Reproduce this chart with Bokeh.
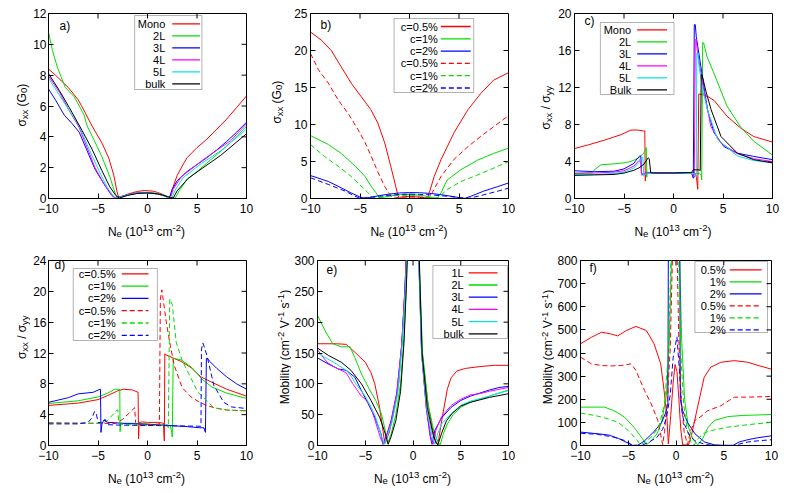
import math
from bokeh.plotting import figure
from bokeh.layouts import row, column
from bokeh.models import Range1d, FixedTicker, Label, BoxAnnotation
from bokeh.embed import file_html
from bokeh.resources import INLINE

FONT = "Liberation Sans"
RED, GREEN, BLUE, MAG, CYAN, BLACK = "#ff0000", "#00dd00", "#0000ff", "#ff00ff", "#00e5e5", "#000000"

NE_TICKS = [-10, -5, 0, 5, 10]

# ---------------- panel a : sigma_xx (G0) vs layers ----------------
A_Y_TICKS = [0, 2, 4, 6, 8, 10, 12]
A_LABELS = ["Mono", "2L", "3L", "4L", "5L", "bulk"]
A_MONO_X = [-10, -9.3, -8, -7, -6.4, -5.6, -4.6, -3.9, -3.4, -3.1, -2.9, -2.5, -2, -1.5, -1, -0.3, 0.5, 1, 1.5, 2, 2.25, 2.5, 3, 3.5, 4, 5, 6, 7, 8, 9, 10]
A_MONO_Y = [8.4, 8.0, 7.2, 6.4, 5.7, 4.7, 3.6, 2.6, 1.5, 0.5, 0.05, 0.15, 0.28, 0.38, 0.46, 0.52, 0.48, 0.4, 0.28, 0.12, 0.03, 0.6, 1.5, 2.1, 2.65, 3.3, 3.85, 4.5, 5.15, 5.9, 6.65]
A_2L_X = [-10, -9.6, -9.1, -8.3, -7.4, -6.8, -6.4, -6.1, -5.4, -4.6, -3.8, -3.3, -3.05, -2.5, -2, -1, 0, 1, 1.5, 2, 2.5, 2.8, 3.2, 4, 5, 6, 7, 8, 9, 10]
A_2L_Y = [10.8, 9.6, 8.5, 7.2, 6.6, 5.9, 5.4, 4.7, 3.8, 2.7, 1.4, 0.4, 0.03, 0.12, 0.22, 0.36, 0.4, 0.33, 0.25, 0.14, 0.04, 0.02, 0.5, 1.25, 1.75, 2.3, 2.85, 3.4, 4.0, 4.7]
A_3L_X = [-10, -9.3, -8.4, -7.6, -6.9, -6.1, -5.3, -4.4, -3.6, -3.25, -3, -2.5, -2, -1, 0, 1, 1.5, 2, 2.2, 2.5, 3, 4, 5, 6, 7, 8, 9, 10]
A_3L_Y = [7.1, 6.4, 5.4, 4.85, 4.3, 3.1, 1.9, 0.95, 0.2, 0.02, 0.08, 0.16, 0.25, 0.36, 0.38, 0.3, 0.22, 0.08, 0.02, 0.6, 1.15, 1.75, 2.2, 2.65, 3.15, 3.7, 4.3, 4.95]
A_4L_X = [-10, -8.9, -7.9, -6.9, -6.1, -5.3, -4.4, -3.8, -3.4, -3.1, -2.5, -2, -1, 0, 1, 1.5, 2, 2.3, 2.6, 3.4, 4.7, 5.7, 6.7, 8.4, 10]
A_4L_Y = [7.95, 6.9, 5.7, 4.6, 3.3, 2.0, 0.95, 0.35, 0.08, 0.03, 0.14, 0.24, 0.36, 0.38, 0.3, 0.22, 0.09, 0.02, 0.6, 1.4, 2.05, 2.55, 3.0, 3.75, 4.85]
A_5L_X = [-10, -8.9, -7.9, -6.9, -5.9, -4.9, -4.1, -3.5, -3.2, -2.5, -2, -1, 0, 1, 1.5, 2, 2.45, 2.8, 3.6, 5.4, 7.4, 10]
A_5L_Y = [7.8, 6.7, 5.7, 4.7, 3.2, 1.8, 0.75, 0.2, 0.03, 0.13, 0.23, 0.35, 0.37, 0.3, 0.22, 0.1, 0.02, 0.55, 1.35, 2.25, 3.1, 4.5]
A_BULK_X = [-10, -8.9, -7.9, -6.6, -5.6, -4.6, -3.8, -3.2, -2.85, -2.5, -2, -1, 0, 1, 1.5, 2, 2.3, 2.6, 3.0, 4.1, 5.4, 7.4, 10]
A_BULK_Y = [8.1, 7.0, 5.9, 4.4, 3.2, 1.8, 0.75, 0.2, 0.02, 0.1, 0.2, 0.33, 0.36, 0.3, 0.22, 0.13, 0.06, 0.03, 0.5, 1.3, 1.9, 2.8, 4.2]

# ---------------- panel b : sigma_xx (G0) vs concentration ----------------
B_Y_TICKS = [0, 5, 10, 15, 20, 25]
B_LABELS = ["c=0.5%", "c=1%", "c=2%", "c=0.5%", "c=1%", "c=2%"]
B_R_X = [-10, -8.9, -7.9, -6.9, -5.9, -4.9, -3.9, -3.2, -2.5, -1.9, -1.4, -1.15, -1, -0.5, 0, 0.5, 1, 1.5, 1.85, 2.0, 2.5, 3.2, 4.5, 5.9, 7.2, 8.5, 10]
B_R_Y = [22.5, 21.4, 20.0, 17.8, 15.6, 13.8, 12.0, 10.2, 7.5, 4.4, 1.7, 0.3, 0.15, 0.25, 0.3, 0.25, 0.2, 0.12, 0.05, 0.8, 3.0, 5.3, 8.9, 12.0, 14.2, 16.0, 17.0]
B_G_X = [-10, -8.2, -6.9, -5.5, -4.5, -3.9, -3.4, -3.0, -2.5, -2, -1, 0, 1, 1.5, 2, 2.5, 2.8, 3.2, 3.8, 5.2, 6.9, 8.5, 10]
B_G_Y = [8.5, 7.3, 6.1, 4.4, 3.0, 1.7, 0.8, 0.05, 0.2, 0.35, 0.5, 0.55, 0.45, 0.35, 0.2, 0.08, 0.05, 0.8, 2.5, 3.9, 5.2, 6.1, 6.8]
B_B_X = [-10, -8.2, -6.9, -5.9, -5.0, -4.6, -4, -3, -2, -1, 0, 1, 2, 3, 4, 5, 5.6, 6.2, 7.5, 8.9, 10]
B_B_Y = [3.1, 2.3, 1.45, 0.75, 0.2, 0.03, 0.15, 0.4, 0.6, 0.75, 0.8, 0.78, 0.7, 0.55, 0.35, 0.12, 0.02, 0.3, 1.0, 1.6, 2.1]
B_RD_X = [-10, -9.2, -8.2, -7.2, -6.2, -5.2, -4.5, -3.9, -3.2, -2.5, -1.9, -1.6, -1, 0, 1, 1.5, 2.0, 2.3, 3.2, 4.5, 5.9, 7.2, 8.5, 10]
B_RD_Y = [19.6, 17.4, 15.6, 13.3, 11.5, 9.3, 7.6, 5.8, 3.6, 1.6, 0.35, 0.05, 0.15, 0.2, 0.15, 0.08, 0.05, 0.8, 3.0, 5.3, 7.0, 8.4, 9.7, 11.2]
B_GD_X = [-10, -8.6, -7.2, -5.9, -4.9, -4.2, -3.8, -3.3, -2.5, -2, -1, 0, 1, 1.5, 2, 2.5, 2.9, 3.8, 5.2, 6.9, 8.5, 10]
B_GD_Y = [7.3, 5.7, 4.35, 3.0, 1.7, 0.8, 0.1, 0.1, 0.2, 0.3, 0.42, 0.45, 0.38, 0.3, 0.18, 0.06, 0.1, 1.2, 2.3, 3.2, 4.1, 5.0]
B_BD_X = [-10, -8.2, -6.5, -5.5, -5.0, -4, -3, -2, -1, 0, 1, 2, 3, 4, 5, 6, 7.5, 8.8, 10]
B_BD_Y = [2.8, 1.9, 1.0, 0.3, 0.03, 0.15, 0.3, 0.45, 0.55, 0.6, 0.55, 0.5, 0.4, 0.28, 0.12, 0.02, 0.5, 0.95, 1.4]

# ---------------- panel c : sigma_xx / sigma_yy vs layers ----------------
C_Y_TICKS = [0, 4, 8, 12, 16, 20]
C_LABELS = ["Mono", "2L", "3L", "4L", "5L", "Bulk"]
C_MONO_X = [-10, -8.6, -7, -5.3, -4.3, -3.6, -3.0, -2.9, -2.85, -2.8, -2.6, -2, 0, 1, 2, 2.3, 2.45, 2.55, 2.6, 3.0, 3.5, 4.1, 5.4, 6.8, 8.1, 10]
C_MONO_Y = [5.4, 5.8, 6.3, 6.9, 7.4, 7.4, 7.3, 7.3, 1.9, 2.9, 2.8, 2.75, 2.75, 2.8, 2.8, 2.5, 1.0, 11.3, 11.3, 11.2, 11.0, 10.6, 8.9, 7.6, 6.7, 6.1]
C_2L_X = [-10, -8.2, -7.9, -7.3, -6, -5, -4.3, -3.5, -3.0, -2.75, -2.7, -2.65, -2.5, -2, 0, 2, 2.6, 2.8, 2.85, 2.95, 3.05, 3.4, 4.1, 5.4, 6.8, 8.1, 10]
C_2L_Y = [2.75, 2.8, 3.2, 3.65, 3.75, 3.85, 4.0, 4.4, 4.9, 5.5, 2.3, 2.9, 2.7, 2.7, 2.7, 2.7, 2.7, 2.5, 2.0, 16.9, 16.8, 15.3, 13.5, 10.0, 7.7, 6.2, 4.7]
C_3L_X = [-10, -8, -6, -5, -4, -3.6, -3.4, -3.3, -3.25, -3.1, -2.5, 0, 1.8, 2.0, 2.1, 2.2, 2.3, 2.76, 3.43, 4.1, 5.1, 6.45, 8.1, 10]
C_3L_Y = [3.0, 2.9, 2.95, 3.2, 3.8, 4.4, 4.6, 4.6, 2.8, 2.6, 2.75, 2.75, 2.8, 2.2, 18.8, 18.8, 17.5, 14.3, 9.6, 7.1, 5.6, 4.9, 4.55, 4.2]
C_4L_X = [-10, -8, -6, -5, -4, -3.5, -3.3, -3.2, -3.0, -2.5, 0, 1.9, 2.1, 2.2, 2.3, 2.4, 2.93, 3.77, 4.77, 6.45, 8.1, 10]
C_4L_Y = [2.7, 2.75, 2.85, 3.0, 3.5, 4.1, 4.3, 2.5, 2.7, 2.75, 2.75, 2.75, 2.3, 17.2, 17.2, 16.0, 12.5, 7.8, 6.0, 4.85, 4.3, 4.0]
C_5L_X = [-10, -8, -6, -5, -4, -3.5, -3.1, -3.0, -2.9, -2.5, 0, 2.1, 2.3, 2.35, 2.45, 2.55, 3.0, 3.43, 4.44, 6.45, 8.1, 10]
C_5L_Y = [2.6, 2.6, 2.7, 2.85, 3.3, 3.9, 4.5, 2.4, 2.6, 2.7, 2.7, 2.7, 2.3, 15.7, 15.7, 14.5, 11.5, 9.6, 6.4, 4.6, 4.1, 3.85]
C_BULK_X = [-10, -8, -6, -5, -4, -3.5, -3, -2.55, -2.45, -2.3, -2, 0, 1.8, 2.0, 2.6, 2.7, 2.8, 2.9, 3.3, 3.8, 4.8, 6.45, 8.1, 10]
C_BULK_Y = [2.5, 2.55, 2.6, 2.75, 3.05, 3.3, 3.7, 4.4, 4.3, 2.8, 2.75, 2.75, 2.8, 3.1, 3.1, 3.0, 13.4, 13.3, 11.5, 9.6, 6.7, 4.9, 4.2, 3.85]

# ---------------- panel d : sigma_xx / sigma_yy vs concentration ----------------
D_Y_TICKS = [0, 4, 8, 12, 16, 20, 24]
D_LABELS = ["c=0.5%", "c=1%", "c=2%", "c=0.5%", "c=1%", "c=2%"]
D_R_X = [-10, -7, -5, -4, -3, -2.4, -1.5, -0.95, -0.9, -0.85, -0.5, 0, 1.0, 1.6, 1.7, 1.75, 1.8, 2.5, 3.4, 4.4, 5.4, 6.5, 8, 10]
D_R_Y = [5.2, 5.5, 5.95, 6.5, 7.1, 7.3, 7.2, 6.9, 0.85, 3.0, 3.05, 3.0, 3.0, 2.9, 0.6, 11.9, 11.8, 11.4, 10.9, 10.1, 8.9, 8.2, 7.3, 6.4]
D_G_X = [-10, -7, -5, -4, -3.3, -2.8, -2.77, -2.7, -2, 0, 1, 2.3, 2.45, 2.5, 2.6, 2.65, 3.4, 4.5, 5.5, 6.5, 8, 10]
D_G_Y = [5.45, 5.8, 6.3, 6.8, 7.3, 7.3, 1.8, 2.8, 2.9, 2.8, 2.7, 2.6, 1.7, 1.1, 11.3, 11.3, 11.1, 10.1, 8.6, 7.6, 6.8, 6.1]
D_B_X = [-10, -8, -7, -5.5, -4.8, -4.75, -4.7, -4.6, -4.4, -4, -2, 0, 2, 4, 5.3, 5.7, 5.85, 5.95, 6.05, 6.3, 7, 8, 9, 10]
D_B_Y = [5.6, 6.2, 6.7, 6.9, 7.3, 7.3, 1.7, 2.8, 3.3, 3.0, 2.85, 2.75, 2.6, 2.45, 2.3, 2.3, 1.7, 11.3, 11.3, 10.9, 10.0, 8.9, 8.0, 7.3]
D_RD_X = [-10, -6, -3.2, -2.5, -1.3, -1.2, -1.1, -0.5, 0.5, 1.2, 1.3, 1.45, 1.9, 2.3, 2.7, 3.5, 4.4, 5.4, 6.7, 8, 10]
D_RD_Y = [2.95, 2.9, 2.85, 3.4, 4.9, 3.0, 2.7, 2.7, 2.7, 2.8, 19.0, 20.2, 16.0, 13.0, 10.4, 7.5, 6.3, 5.5, 4.9, 4.6, 4.5]
D_GD_X = [-10, -6, -4.5, -4, -3.5, -3.1, -3.0, -2.9, -2, 0, 1.5, 2.0, 2.1, 2.25, 2.5, 2.9, 3.5, 4.1, 5.1, 6.7, 8, 10]
D_GD_Y = [2.9, 2.85, 2.9, 3.3, 4.0, 4.6, 4.6, 2.8, 2.7, 2.6, 2.6, 2.7, 2.3, 19.0, 18.3, 13.4, 11.0, 9.5, 6.9, 4.9, 4.6, 4.5]
D_BD_X = [-10, -7, -6, -5.6, -5.35, -5.2, -5.0, -4.5, -4.3, -4.0, -3, 0, 3, 5.2, 5.4, 5.45, 5.6, 6.0, 6.7, 7.7, 8.5, 10]
D_BD_Y = [2.8, 2.8, 3.0, 3.6, 4.4, 4.3, 3.0, 2.9, 3.4, 2.7, 2.65, 2.6, 2.55, 2.5, 2.5, 12.5, 13.3, 11.7, 7.8, 5.6, 5.0, 4.8]

# ---------------- panel e : mobility vs layers ----------------
E_Y_TICKS = [0, 50, 100, 150, 200, 250, 300]
E_LABELS = ["1L", "2L", "3L", "4L", "5L", "bulk"]
E_1L_X = [-10, -8, -7, -6, -5, -4.4, -4, -3.5, -3.2, -2.95, -2.5, -2.0, -1.5, -1.1, -0.8, -0.55, 0, 0.45, 0.65, 0.9, 1.5, 2.0, 2.35, 2.6, 3.0, 3.6, 4.0, 4.6, 5.5, 7, 8.5, 10]
E_1L_Y = [165, 165, 164, 150, 135, 118, 100, 62, 30, 3, 20, 55, 100, 180, 270, 380, 700, 420, 290, 160, 75, 30, 8, 1, 40, 92, 110, 121, 125, 128, 130, 130]
E_2L_X = [-10, -9.2, -8.4, -7.5, -6.6, -6.1, -5.4, -4.7, -3.9, -3.3, -2.9, -2.65, -2.3, -1.8, -1.3, -0.95, -0.7, -0.45, 0, 0.5, 0.7, 1.0, 1.6, 2.2, 2.6, 2.85, 3.2, 3.6, 4.2, 5, 6, 7, 8, 9, 10]
E_2L_Y = [211, 186, 165, 160, 160, 143, 116, 95, 73, 51, 24, 3, 18, 50, 100, 175, 260, 380, 700, 400, 280, 150, 65, 22, 6, 1, 20, 35, 50, 62, 70, 75, 80, 85, 90]
E_3L_X = [-10, -8.85, -7.8, -7, -6.1, -5.4, -4.7, -4.0, -3.35, -3.15, -2.8, -2.3, -1.7, -1.2, -0.85, -0.55, 0, 0.45, 0.65, 0.9, 1.4, 1.8, 2.0, 2.3, 3, 4, 5, 6, 7, 8, 9, 10]
E_3L_Y = [142, 132, 124, 122, 111, 89, 68, 46, 19, 2, 15, 40, 85, 160, 250, 370, 700, 400, 280, 150, 60, 15, 2, 25, 45, 62, 73, 80, 85, 90, 94, 96]
E_4L_X = [-10, -9, -8.2, -7, -6.3, -5.4, -5, -4.5, -4, -3.4, -3.1, -2.8, -2.3, -1.7, -1.2, -0.85, -0.55, 0, 0.45, 0.65, 0.9, 1.4, 1.85, 2.1, 2.4, 3, 4, 5, 6, 7, 8, 9, 10]
E_4L_Y = [155, 135, 127, 118, 100, 80, 75, 65, 42, 12, 2, 14, 38, 84, 160, 250, 370, 700, 400, 280, 150, 60, 15, 2, 25, 47, 65, 75, 82, 84, 88, 91, 94]
E_5L_X = [-10, -9, -8, -7, -6.5, -6, -5, -4, -3.3, -3.0, -2.7, -2.2, -1.6, -1.15, -0.8, -0.5, 0, 0.45, 0.65, 0.9, 1.45, 2.0, 2.3, 2.6, 3, 4, 5, 6, 7, 8, 9, 10]
E_5L_Y = [150, 141, 132, 122, 113, 100, 80, 50, 15, 2, 14, 38, 84, 160, 250, 370, 700, 400, 280, 150, 60, 15, 2, 20, 35, 52, 65, 72, 76, 80, 85, 89]
E_BULK_X = [-10, -8.85, -7.5, -6.5, -5.4, -4.4, -3.5, -3.0, -2.6, -2.3, -1.8, -1.3, -0.95, -0.7, -0.45, 0, 0.5, 0.7, 0.95, 1.5, 2.1, 2.4, 2.6, 3.0, 3.5, 4.1, 5, 6, 7, 8, 9, 10]
E_BULK_Y = [158, 146, 135, 122, 100, 73, 46, 24, 2, 14, 40, 88, 165, 255, 370, 700, 400, 280, 150, 62, 18, 5, 1, 20, 40, 52, 64, 70, 74, 78, 81, 84]

# ---------------- panel f : mobility vs concentration ----------------
F_Y_TICKS = [0, 100, 200, 300, 400, 500, 600, 700, 800]
F_LABELS = ["0.5%", "1%", "2%", "0.5%", "1%", "2%"]
F_R_X = [-10, -8.85, -7.8, -6.9, -6.1, -5.2, -4.2, -3.1, -2.3, -1.6, -1.25, -0.95, -0.8, -0.55, -0.3, -0.1, 0.1, 0.3, 0.5, 0.7, 1.3, 1.6, 2.26, 2.95, 3.65, 4.7, 6.1, 7.5, 8.7, 10]
F_R_Y = [440, 468, 490, 483, 474, 497, 515, 497, 440, 353, 238, 123, 7, 130, 270, 350, 320, 200, 70, 3, 2, 40, 166, 295, 339, 360, 367, 360, 345, 330]
F_G_X = [-10, -7.5, -6.5, -5.4, -4.4, -3.5, -3.1, -2.6, -2.0, -1.5, -1.0, -0.7, -0.45, 0.35, 0.6, 0.9, 1.3, 1.8, 2.3, 2.8, 3.3, 4.0, 5.4, 7, 10]
F_G_Y = [166, 166, 151, 123, 79, 29, 3, 20, 50, 100, 220, 450, 850, 850, 450, 200, 80, 25, 3, 30, 75, 108, 125, 130, 134]
F_B_X = [-10, -8, -7, -6, -5, -4.6, -4.0, -3.3, -2.3, -1.5, -1.1, -0.85, -0.8, 0.4, 0.45, 0.7, 1.2, 2.0, 3.0, 4.0, 5.0, 6.0, 6.6, 7.5, 8.5, 10]
F_B_Y = [58, 50, 45, 30, 10, 1, 1, 20, 60, 100, 140, 180, 850, 850, 200, 150, 100, 50, 15, 3, 1, 1, 15, 25, 33, 42]
F_RD_X = [-10, -8.85, -7.8, -6.8, -5.7, -4.7, -4.2, -3.3, -2.6, -1.9, -1.55, -1.4, -1.2, -0.9, -0.6, -0.35, 0.1, 0.3, 0.55, 0.85, 1.2, 1.5, 2.0, 2.6, 3.3, 4.7, 6.1, 7.5, 10]
F_RD_Y = [382, 353, 346, 344, 346, 353, 325, 238, 180, 108, 36, 3, 60, 200, 420, 850, 850, 450, 200, 60, 3, 60, 110, 125, 150, 172, 209, 209, 212]
F_GD_X = [-10, -8.5, -7.1, -6.1, -5.0, -4.2, -3.7, -3.2, -2.5, -1.8, -1.2, -0.8, -0.5, 0.25, 0.5, 0.8, 1.2, 1.6, 1.9, 2.4, 3.0, 3.7, 5.4, 7.5, 10]
F_GD_Y = [140, 130, 115, 101, 65, 29, 3, 15, 40, 80, 180, 400, 850, 850, 400, 180, 60, 10, 2, 35, 55, 65, 79, 90, 100]
F_BD_X = [-10, -8.2, -6.5, -5.4, -4.7, -4.3, -3.5, -2.8, -2, -1.4, -1.0, -0.6, -0.3, 0.1, 0.35, 0.6, 0.9, 1.4, 2.0, 3, 4, 6, 6.8, 7.5, 8.5, 10]
F_BD_Y = [53, 48, 36, 22, 5, 0, 2, 15, 35, 70, 120, 220, 380, 470, 330, 150, 90, 45, 20, 5, 0, 0, 8, 15, 20, 25]

# ---------------- text helpers ----------------
CW = {'N': .722, 'e': .556, ' ': .278, '(': .333, ')': .333, 'c': .5, 'm': .833, '-': .333,
      'σ': .6, 'x': .5, 'y': .5, '/': .278, 'G': .778, 'M': .833, 'o': .556, 'b': .556,
      'i': .222, 'l': .222, 't': .278, 'V': .667, 's': .5}


def tw(s, fs):
    return sum(CW.get(ch, .556) for ch in s) * fs


def rich_label(p, parts, x, y, vertical, fs=12.0):
    """Text with sub/superscripts, centred on (x, y) along its direction; (x or y) is the baseline."""
    sfs = fs * 0.8
    widths = [tw(t, fs if k == 'n' else sfs) for t, k in parts]
    pos = -sum(widths) / 2.0
    for (t, k), w in zip(parts, widths):
        f = fs if k == 'n' else sfs
        sh = {'n': 0, 'sub': -2.5, 'sup': 3.5}[k]
        lead = (len(t) - len(t.lstrip(' '))) * 0.278 * f
        common = dict(x=x, y=y, text=t.strip(' '), text_font=FONT, text_font_size="%.1fpx" % f,
                      text_color="black", text_align="left", text_baseline="alphabetic")
        if vertical:
            lab = Label(x_offset=-sh, y_offset=pos + lead, angle=math.pi / 2, **common)
        else:
            lab = Label(x_offset=pos + lead, y_offset=sh, **common)
        p.add_layout(lab)
        pos += w


def strip(w, h):
    s = figure(width=w, height=h, x_range=Range1d(0, w), y_range=Range1d(0, h),
               x_axis_type=None, y_axis_type=None, toolbar_location=None, tools="", output_backend="svg",
               min_border_left=0, min_border_right=0, min_border_top=0, min_border_bottom=0)
    s.outline_line_color = None
    s.background_fill_color = "white"
    s.border_fill_color = "white"
    return s


YLAB_SIGMA = [("σ", 'n'), ("xx", 'sub'), (" (G", 'n'), ("0", 'sub'), (")", 'n')]
YLAB_RATIO = [("σ", 'n'), ("xx", 'sub'), (" / σ", 'n'), ("yy", 'sub')]
YLAB_MOB = [("Mobility (cm", 'n'), ("-2", 'sup'), (" V", 'n'), ("-1", 'sup'), (" s", 'n'), ("-1", 'sup'), (")", 'n')]
XLAB = [("N", 'n'), ("e", 'sub'), (" (10", 'n'), ("13", 'sup'), (" cm", 'n'), ("-2", 'sup'), (")", 'n')]

FH = 185


def make_panel(cfg):
    fw, ymax = cfg['fw'], cfg['ymax']
    bl, bt_, br, bb = cfg['borders']
    p = figure(width=bl + fw + br, height=bt_ + FH + bb, x_range=Range1d(-10, 10), y_range=Range1d(0, ymax),
               output_backend="svg", toolbar_location=None, tools="",
               min_border_left=bl, min_border_top=bt_, min_border_right=br, min_border_bottom=bb)
    p.xgrid.visible = False
    p.ygrid.visible = False
    p.outline_line_color = "black"
    p.outline_line_width = 1
    p.background_fill_color = "white"
    p.border_fill_color = "white"
    for ax, ticks, so in ((p.xaxis[0], NE_TICKS, 5), (p.yaxis[0], cfg['yticks'], cfg['ystandoff'])):
        ax.ticker = FixedTicker(ticks=ticks)
        ax.major_tick_in = 5
        ax.major_tick_out = 0
        ax.minor_tick_in = 0
        ax.minor_tick_out = 0
        ax.axis_line_color = "black"
        ax.major_tick_line_color = "black"
        ax.major_label_text_font = FONT
        ax.major_label_text_font_size = "12px"
        ax.major_label_text_color = "black"
        ax.major_label_standoff = so
    # mirrored inner ticks on top and right edges
    tl_y = 5.0 * ymax / FH
    tl_x = 5.0 * 20.0 / fw
    p.segment(x0=NE_TICKS, y0=[ymax] * 5, x1=NE_TICKS, y1=[ymax - tl_y] * 5, line_color="black", line_width=1)
    yt = cfg['yticks']
    p.segment(x0=[10] * len(yt), y0=yt, x1=[10 - tl_x] * len(yt), y1=yt, line_color="black", line_width=1)

    for (xs, ys, col, dash) in cfg['series']:
        p.line(xs, ys, line_color=col, line_width=1, line_dash=dash)

    # legend (gnuplot style: text right-aligned, sample line to its right)
    def dx_(rx):
        return -10 + rx * 20.0 / fw

    def dy_(ry):
        return ymax * (1 - ry / float(FH))

    lg = cfg['legend']
    l, t, r, b = lg['box']
    p.add_layout(BoxAnnotation(left=dx_(l), right=dx_(r), top=dy_(t), bottom=dy_(b),
                               fill_alpha=0, line_color="black", line_width=1))
    for i, ((xs, ys, col, dash), name) in enumerate(zip(cfg['series'], cfg['labels'])):
        ry = lg['r0'] + i * lg['dr']
        p.add_layout(Label(x=dx_(lg['tr']), y=dy_(ry), text=name, text_font=FONT, text_font_size="11px",
                           text_color="black", text_align="right", text_baseline="middle"))
        p.line([dx_(lg['l0']), dx_(lg['l1'])], [dy_(ry), dy_(ry)], line_color=col, line_width=1.3, line_dash=dash)

    # panel tag
    p.add_layout(Label(x=-10, y=ymax, x_offset=cfg['tag_off'][0], y_offset=cfg['tag_off'][1], text=cfg['tag'],
                       text_font=FONT, text_font_size="12px", text_color="black"))
    return p


S, D = "solid", "5 3"
panels = [
    dict(fw=200, ymax=12, yticks=A_Y_TICKS, ystandoff=2, borders=(16, 13, 12, 19), labels=A_LABELS, tag="a)", tag_off=(11, -19.5),
         legend=dict(box=(87, 2, 155, 76), tr=118, l0=125, l1=153, r0=10.3, dr=12),
         series=[(A_MONO_X, A_MONO_Y, RED, S), (A_2L_X, A_2L_Y, GREEN, S), (A_3L_X, A_3L_Y, BLUE, S),
                 (A_4L_X, A_4L_Y, MAG, S), (A_5L_X, A_5L_Y, CYAN, S), (A_BULK_X, A_BULK_Y, BLACK, S)]),
    dict(fw=199, ymax=25, yticks=B_Y_TICKS, ystandoff=3, borders=(18, 13, 14, 19), labels=B_LABELS, tag="b)", tag_off=(10, -18),
         legend=dict(box=(84, 5, 164, 79), tr=128, l0=131, l1=161, r0=13, dr=12.3),
         series=[(B_R_X, B_R_Y, RED, S), (B_G_X, B_G_Y, GREEN, S), (B_B_X, B_B_Y, BLUE, S),
                 (B_RD_X, B_RD_Y, RED, D), (B_GD_X, B_GD_Y, GREEN, D), (B_BD_X, B_BD_Y, BLUE, D)]),
    dict(fw=199, ymax=20, yticks=C_Y_TICKS, ystandoff=3, borders=(18, 13, 9, 19), labels=C_LABELS, tag="c)", tag_off=(10, -14),
         legend=dict(box=(26, 9, 100, 81), tr=57, l0=63, l1=93, r0=16.3, dr=12),
         series=[(C_MONO_X, C_MONO_Y, RED, S), (C_2L_X, C_2L_Y, GREEN, S), (C_3L_X, C_3L_Y, BLUE, S),
                 (C_4L_X, C_4L_Y, MAG, S), (C_5L_X, C_5L_Y, CYAN, S), (C_BULK_X, C_BULK_Y, BLACK, S)]),
    dict(fw=200, ymax=24, yticks=D_Y_TICKS, ystandoff=2, borders=(16, 12, 12, 19), labels=D_LABELS, tag="d)", tag_off=(6, -11),
         legend=dict(box=(25, 8, 110, 80), tr=68, l0=74, l1=101, r0=13.3, dr=12.3),
         series=[(D_R_X, D_R_Y, RED, S), (D_G_X, D_G_Y, GREEN, S), (D_B_X, D_B_Y, BLUE, S),
                 (D_RD_X, D_RD_Y, RED, D), (D_GD_X, D_GD_Y, GREEN, D), (D_BD_X, D_BD_Y, BLUE, D)]),
    dict(fw=192, ymax=300, yticks=E_Y_TICKS, ystandoff=3, borders=(25, 12, 14, 19), labels=E_LABELS, tag="e)", tag_off=(9, -16),
         legend=dict(box=(116, 5, 191, 78), tr=147, l0=152, l1=181, r0=12.3, dr=12.2),
         series=[(E_1L_X, E_1L_Y, RED, S), (E_2L_X, E_2L_Y, GREEN, S), (E_3L_X, E_3L_Y, BLUE, S),
                 (E_4L_X, E_4L_Y, MAG, S), (E_5L_X, E_5L_Y, CYAN, S), (E_BULK_X, E_BULK_Y, BLACK, S)]),
    dict(fw=192, ymax=800, yticks=F_Y_TICKS, ystandoff=3, borders=(25, 12, 10, 19), labels=F_LABELS, tag="f)", tag_off=(9, -14.5),
         legend=dict(box=(115, 1, 188, 72), tr=146, l0=150, l1=182, r0=9.3, dr=12),
         series=[(F_R_X, F_R_Y, RED, S), (F_G_X, F_G_Y, GREEN, S), (F_B_X, F_B_Y, BLUE, S),
                 (F_RD_X, F_RD_Y, RED, D), (F_GD_X, F_GD_Y, GREEN, D), (F_BD_X, F_BD_Y, BLUE, D)]),
]

figs = [make_panel(c) for c in panels]

# y-label strips: (width, height, baseline x, centre y) in strip pixels (y measured from strip bottom)
ystrip_specs = [(30, 217, 21, 109.5, YLAB_SIGMA), (33, 217, 18, 113, YLAB_SIGMA), (33, 217, 23, 106.5, YLAB_RATIO),
                (30, 216, 21, 126.5, YLAB_RATIO), (33, 216, 26, 115, YLAB_MOB), (32, 216, 25.5, 115, YLAB_MOB)]
ystrips = []
for w, h, bx, cy, parts in ystrip_specs:
    s = strip(w, h)
    rich_label(s, parts, bx, cy, True)
    ystrips.append(s)

# x-label strips: (width, height, centre x, baseline y from bottom)
xstrip_specs = [(258, 31, 146, 17), (264, 31, 150.5, 17), (259, 31, 150.5, 17),
                (258, 24, 146, 10), (264, 24, 154, 10), (259, 24, 153, 10)]
xstrips = []
for w, h, cx, by in xstrip_specs:
    s = strip(w, h)
    rich_label(s, XLAB, cx, by, False)
    xstrips.append(s)

layout = column(
    row(ystrips[0], figs[0], ystrips[1], figs[1], ystrips[2], figs[2]),
    row(*xstrips[:3]),
    row(ystrips[3], figs[3], ystrips[4], figs[4], ystrips[5], figs[5]),
    row(*xstrips[3:]),
)

open("out.html", "w").write(file_html(layout, INLINE))
